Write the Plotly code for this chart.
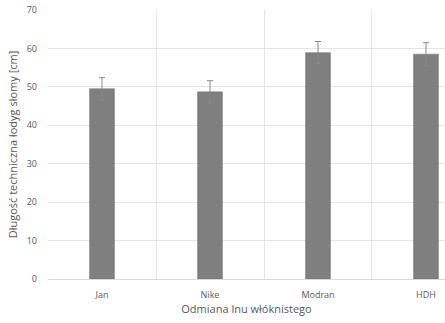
import plotly.graph_objects as go

categories = ["Jan", "Nike", "Modran", "HDH"]
values = [49.5, 48.7, 58.9, 58.5]
errors = [2.9, 2.9, 2.9, 3.0]

fig = go.Figure()
fig.add_trace(go.Bar(
    x=categories, y=values, width=0.23,
    marker=dict(color="#7f7f7f", line=dict(color="#6f6f6f", width=0.5)),
    error_y=dict(type="data", array=errors, visible=True, color="#8a8a8a", thickness=1, width=3),
))

font_family = "Open Sans, Liberation Sans, sans-serif"
fig.update_layout(
    width=445, height=323,
    margin=dict(l=48, r=0, t=10, b=44),
    paper_bgcolor="white", plot_bgcolor="white",
    showlegend=False,
    font=dict(family=font_family, color="#595959"),
    xaxis=dict(
        type="category", range=[-0.5, 3.176], tickson="boundaries",
        showgrid=True, gridcolor="#e4e4e4", gridwidth=1,
        ticks="", tickfont=dict(size=9, color="#595959"), ticklabelstandoff=7,
        showline=True, linecolor="#d9d9d9",
        title=dict(text="Odmiana lnu włóknistego", font=dict(size=11, color="#595959"), standoff=4),
    ),
    yaxis=dict(
        range=[0, 70], dtick=10, showgrid=True, gridcolor="#e4e4e4", gridwidth=1,
        zeroline=False, ticks="", tickfont=dict(size=9, color="#595959"), ticklabelstandoff=10,
        title=dict(text="Długość techniczna łodyg słomy [cm]", font=dict(size=11, color="#595959"), standoff=6),
    ),
)
fig.write_html("out.html")
